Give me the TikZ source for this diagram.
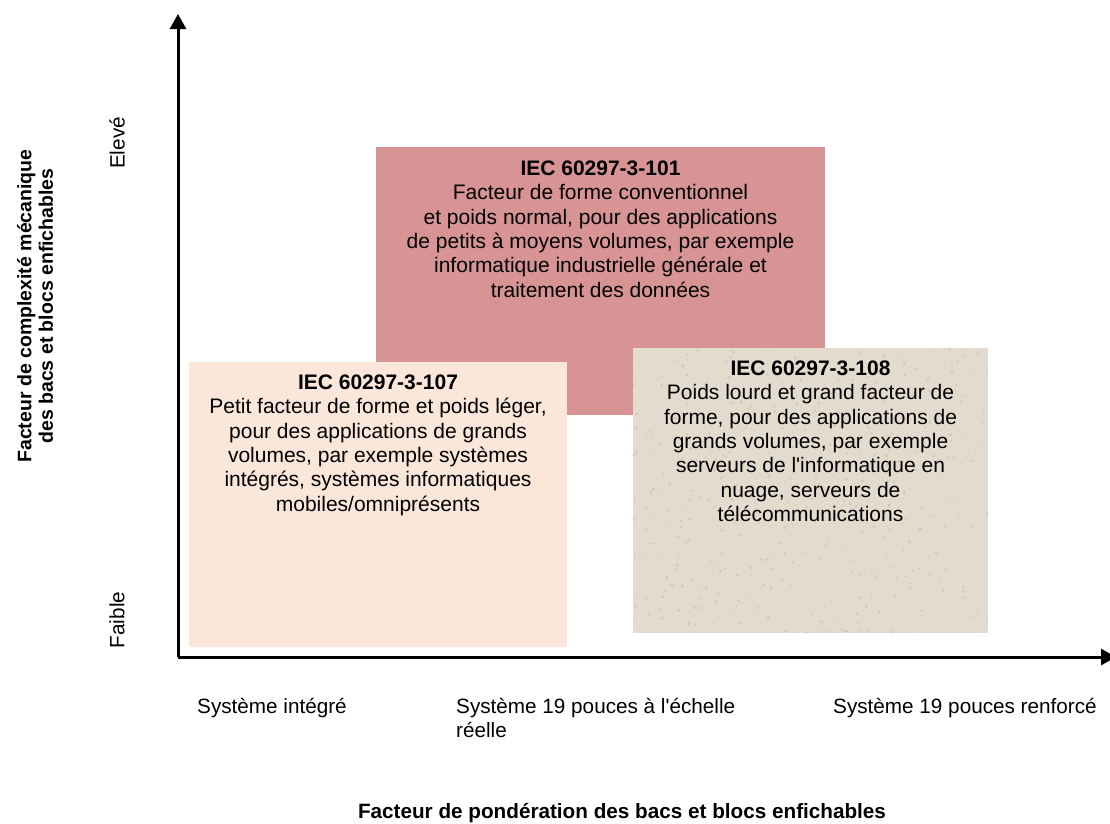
\documentclass[tikz,border=0pt]{standalone}
\usepackage{fontspec}
\setmainfont{Liberation Sans}
\newfontfamily\plainsans{Liberation Sans}
\newcommand{\sq}{{\plainsans'}}
\usetikzlibrary{arrows.meta}
\definecolor{redbox}{HTML}{D89494}
\definecolor{peachbox}{HTML}{FAE7DA}
\definecolor{beigebox}{HTML}{E3DBCE}
\definecolor{speck}{HTML}{C9BFB0}
\tikzset{
  box/.style={draw=none, inner sep=0pt, anchor=north west},
  boxtext/.style={anchor=north, inner sep=0pt, align=center, font=\fontsize{21}{24.4}\selectfont},
  lbl/.style={inner sep=0pt, font=\fontsize{20.7}{24.4}\selectfont},
  axis/.style={line width=3pt, -{Triangle[length=15pt,width=16pt]}},
}
\begin{document}
\begin{tikzpicture}[x=1pt,y=-1pt]
\useasboundingbox (0,0) rectangle (1110,823);
% boxes
\node[box, fill=redbox, minimum width=449pt, minimum height=268pt] (b101) at (376,147) {};
\node[box, fill=beigebox, minimum width=355pt, minimum height=285pt] (b108) at (633,348) {};
\begin{scope}
\clip (633,348) rectangle (988,633);
\pgfmathsetseed{7}
\foreach \i in {1,...,500}{
  \pgfmathsetmacro{\px}{633+355*rnd}
  \pgfmathsetmacro{\py}{348+285*rnd}
  \pgfmathsetmacro{\pr}{0.6+1.2*rnd}
  \fill[speck, opacity=0.6] (\px,\py) circle (\pr pt);
}
\end{scope}
\node[box, fill=peachbox, minimum width=378pt, minimum height=285pt] (b107) at (189,362) {};
% box texts
\node[boxtext] (t101) at (600.5,160.5) {\textbf{IEC 60297-3-101}\\Facteur de forme conventionnel\\et poids normal, pour des applications\\de petits à moyens volumes, par exemple\\informatique industrielle générale et\\traitement des données};
\node[boxtext] (t107) at (378,374.5) {\textbf{IEC 60297-3-107}\\Petit facteur de forme et poids léger,\\pour des applications de grands\\volumes, par exemple systèmes\\intégrés, systèmes informatiques\\mobiles/omniprésents};
\node[boxtext] (t108) at (810.5,360.5) {\textbf{IEC 60297-3-108}\\Poids lourd et grand facteur de\\forme, pour des applications de\\grands volumes, par exemple\\serveurs de l\sq informatique en\\nuage, serveurs de\\télécommunications};
% axes
\coordinate (O) at (178,657);
\coordinate (ytop) at (178,14);
\coordinate (xend) at (1116,657);
\draw[axis] (O) -- (ytop);
\draw[axis] (O) -- (xend);
% axis labels
\node[lbl, rotate=90] (hi) at (117,143) {Elevé};
\node[lbl, rotate=90] (lo) at (117,620) {Faible};
\node[lbl, rotate=90, align=center, font=\fontsize{19.5}{21.5}\selectfont\bfseries] (ytitle) at (35,306) {Facteur de complexité mécanique\\des bacs et blocs enfichables};
\node[lbl, anchor=base west] (x1) at (197,713.4) {Système intégré};
\node[lbl, anchor=north west, align=left] (x2) at (456,698) {Système 19 pouces à l\sq échelle\\réelle};
\node[lbl, anchor=base west] (x3) at (833,713.4) {Système 19 pouces renforcé};
\node[lbl, font=\fontsize{20.7}{24}\selectfont\bfseries] (xtitle) at (622,813) {Facteur de pondération des bacs et blocs enfichables};
\end{tikzpicture}
\end{document}
